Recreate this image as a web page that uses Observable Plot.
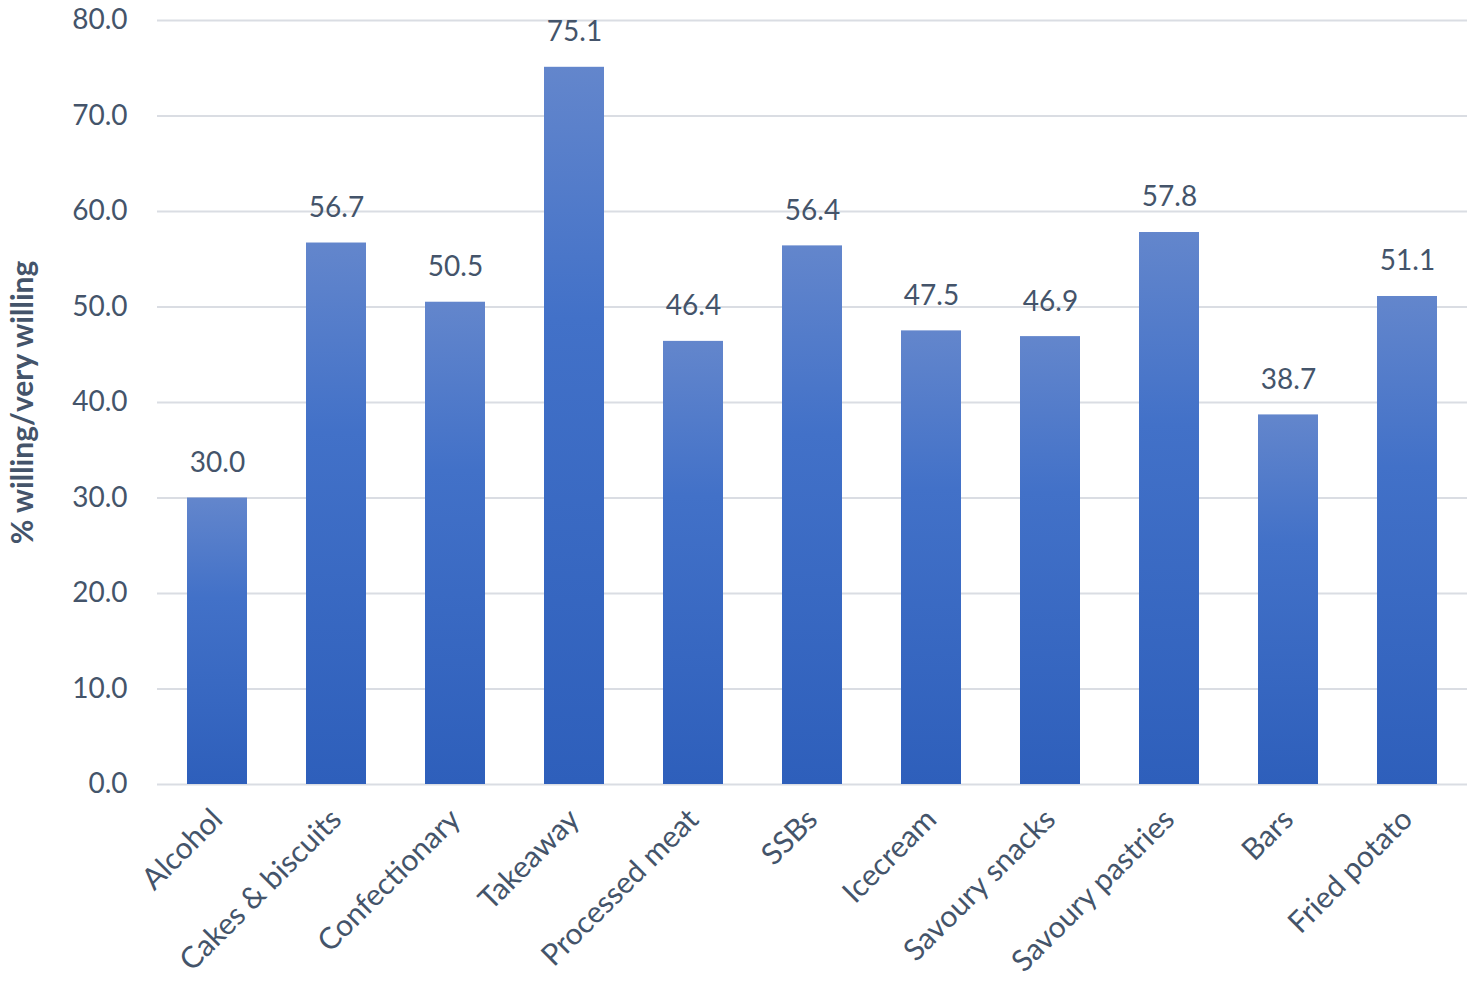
<!DOCTYPE html>
<html>
<head>
<meta charset="utf-8">
<script src="https://cdn.jsdelivr.net/npm/d3@7"></script>
<script src="https://cdn.jsdelivr.net/npm/@observablehq/plot@0.6"></script>
<style>
  html, body { margin: 0; padding: 0; background: #fff; }
  #chart { width: 1477px; height: 988px; }
</style>
</head>
<body>
<div id="chart"></div>
<script>
const categories = ["Alcohol", "Cakes & biscuits", "Confectionary", "Takeaway", "Processed meat", "SSBs", "Icecream", "Savoury snacks", "Savoury pastries", "Bars", "Fried potato"];
const values = [30.0, 56.7, 50.5, 75.1, 46.4, 56.4, 47.5, 46.9, 57.8, 38.7, 51.1];
const yTicks = [0, 10, 20, 30, 40, 50, 60, 70, 80];
const yTitle = "% willing/very willing";

const data = categories.map((c, i) => ({category: c, value: values[i]}));
const textColor = "#44546A";

const chart = Plot.plot({
  width: 1477,
  height: 988,
  marginLeft: 157,
  marginRight: 10,
  marginTop: 20,
  marginBottom: 204,
  style: {fontFamily: "Lato, 'Open Sans', sans-serif", fontSize: "28px", color: textColor, background: "#fff"},
  x: {domain: categories, paddingInner: 0.5, paddingOuter: 0.25, label: null},
  y: {domain: [0, 80], label: null},
  marks: [
    Plot.ruleY(yTicks, {stroke: "#dadde3", strokeWidth: 2}),
    Plot.barY(data, {x: "category", y: "value", fill: "url(#barGrad)"}),
    Plot.text(data, {x: "category", y: "value", text: d => d.value.toFixed(1), dy: -35, fill: textColor, fontSize: 28}),
    Plot.axisY({ticks: yTicks, tickFormat: d => d.toFixed(1), tickSize: 0, tickPadding: 30, fontSize: 28, label: yTitle, labelAnchor: "center", labelArrow: "none", labelOffset: 146, color: textColor}),
    Plot.axisX({tickSize: 0, tickRotate: -45, tickPadding: 30, fontSize: 30, label: null, color: textColor})
  ]
});

const svg = d3.select(chart);
const defs = svg.insert("defs", ":first-child");
const grad = defs.append("linearGradient").attr("id", "barGrad").attr("x1", 0).attr("y1", 0).attr("x2", 0).attr("y2", 1);
grad.append("stop").attr("offset", "0%").attr("stop-color", "#6386cc");
grad.append("stop").attr("offset", "35%").attr("stop-color", "#4271c8");
grad.append("stop").attr("offset", "100%").attr("stop-color", "#2e5fbb");

svg.selectAll('g[aria-label="y-axis label"] text').attr("font-weight", "bold").attr("font-size", 30).attr("fill", textColor);

document.getElementById("chart").appendChild(chart);
</script>
</body>
</html>
